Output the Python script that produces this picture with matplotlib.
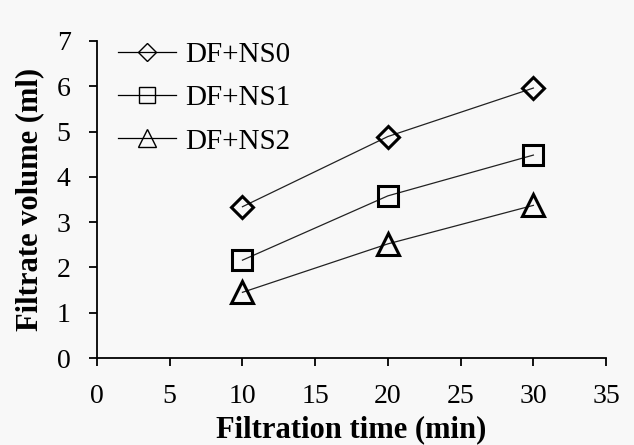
import matplotlib.pyplot as plt

plt.rcParams['font.family'] = ['Liberation Serif', 'DejaVu Serif']

time_min = [10, 20, 30]
ns0 = [3.34, 4.89, 5.96]
ns1 = [2.16, 3.58, 4.48]
ns2 = [1.45, 2.52, 3.37]
labels = ['DF+NS0', 'DF+NS1', 'DF+NS2']

bg = '#f8f8f8'
fig = plt.figure(figsize=(6.34, 4.45), dpi=100, facecolor=bg)
ax = fig.add_axes([0.153, 0.1955, 0.803, 0.7125], facecolor=bg)

styles = [('D', 11), ('s', 14), ('^', 16)]
for ys, lab, (m, ms) in zip([ns0, ns1, ns2], labels, styles):
    ax.plot(time_min, ys, color='#222222', lw=0.9, marker=m, ms=ms,
            mfc='none', mec='black', mew=2.2, label=lab)

ax.set_xlim(0, 35)
ax.set_ylim(0, 7)
ax.set_xticks(range(0, 36, 5))
ax.set_yticks(range(0, 8))
for s in ['top', 'right']:
    ax.spines[s].set_visible(False)
for s in ['left', 'bottom']:
    ax.spines[s].set_linewidth(1.3)
ax.tick_params(direction='out', length=6, width=1.3, labelsize=20)
ax.tick_params(axis='x', pad=13)
ax.tick_params(axis='y', pad=13)

ax.set_xlabel('Filtration time (min)', fontsize=22, fontweight='bold', labelpad=4)
ax.set_ylabel('Filtrate volume (ml)', fontsize=22, fontweight='bold', labelpad=9)

leg = ax.legend(loc='upper left', bbox_to_anchor=(0.018, 1.035), frameon=False,
                fontsize=21, handlelength=2.0, handletextpad=0.3,
                labelspacing=0.58, borderaxespad=0)
for h, ms in zip(leg.legend_handles, [9, 12, 13]):
    h.set_markeredgewidth(1.0)
    h.set_markersize(ms)
    h.set_color('black')

fig.savefig('out.png', dpi=100, facecolor=bg)
